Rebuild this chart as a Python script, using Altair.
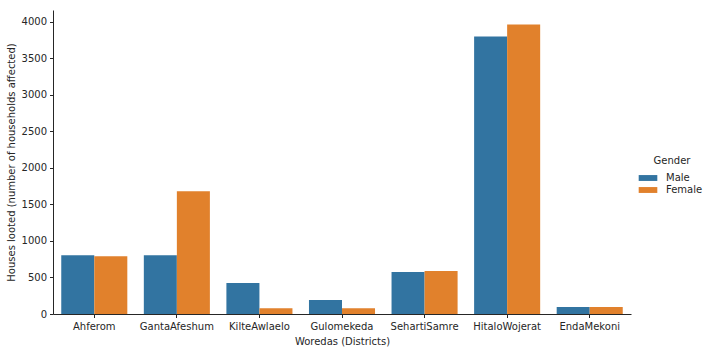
import altair as alt
import pandas as pd

districts = ["Ahferom", "GantaAfeshum", "KilteAwlaelo", "Gulomekeda",
             "SehartiSamre", "HitaloWojerat", "EndaMekoni"]
male = [805, 805, 425, 190, 575, 3800, 95]
female = [790, 1680, 80, 80, 588, 3965, 95]
genders = ["Male", "Female"]
colors = ["#3274a1", "#e1812c"]

rows = []
for d, m, f in zip(districts, male, female):
    rows.append({"District": d, "Gender": "Male", "Value": m})
    rows.append({"District": d, "Gender": "Female", "Value": f})
df = pd.DataFrame(rows)

font = "DejaVu Sans"

chart = alt.Chart(df).mark_bar().encode(
    x=alt.X("District:N", sort=districts,
            scale=alt.Scale(paddingInner=0.2, paddingOuter=0.1),
            axis=alt.Axis(title="Woredas (Districts)", labelAngle=0, titlePadding=5,
                          labelPadding=4)),
    xOffset=alt.XOffset("Gender:N", sort=genders, scale=alt.Scale(paddingInner=0, paddingOuter=0)),
    y=alt.Y("Value:Q", scale=alt.Scale(domain=[0, 4162], nice=False),
            axis=alt.Axis(title="Houses looted (number of households affected)",
                          values=list(range(0, 4001, 500)), format="d", titlePadding=5)),
    color=alt.Color("Gender:N", sort=genders,
                    scale=alt.Scale(domain=genders, range=colors),
                    legend=alt.Legend(orient="none", legendX=588, legendY=146,
                                      title="Gender", titleAnchor="middle",
                                      symbolType="M-1.33,-0.42L1.33,-0.42L1.33,0.42L-1.33,0.42Z",
                                      symbolSize=196, symbolStrokeWidth=0,
                                      labelOffset=11, rowPadding=0, titlePadding=5,
                                      padding=0)),
).properties(
    width=578, height=304,
    autosize=alt.AutoSizeParams(type="none"),
    padding={"left": 53, "top": 10, "right": 81, "bottom": 38},
).configure_view(stroke=None).configure_axis(
    grid=False, domainColor="#262626", tickColor="#262626", domainWidth=1, tickWidth=1,
    tickSize=3.5, labelFont=font, titleFont=font, labelFontSize=10, titleFontSize=10,
    labelColor="#262626", titleColor="#262626", titleFontWeight="normal", labelPadding=3,
).configure_legend(
    labelFont=font, titleFont=font, labelFontSize=10, titleFontSize=10,
    labelColor="#262626", titleColor="#262626", titleFontWeight="normal",
)

chart.save("out.html", embed_options={"renderer": "svg", "actions": False})
